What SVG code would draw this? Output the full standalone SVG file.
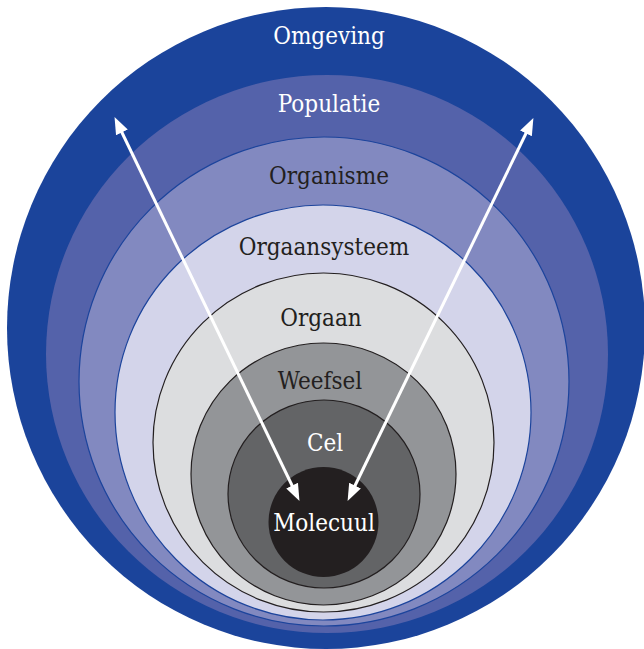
<svg xmlns="http://www.w3.org/2000/svg" width="644" height="649" viewBox="0 0 644 649">
<defs>
<style>
.lbl{font-family:"DejaVu Serif Condensed","DejaVu Serif","Liberation Serif",serif;font-size:24px;text-anchor:middle;}
.w{fill:#ffffff;}
.d{fill:#231f20;}
.blue{stroke:#1c449c;stroke-width:1.2;}
.gray{stroke:#231f20;stroke-width:1.2;}
.arrow{stroke:#ffffff;stroke-width:3;fill:none;marker-start:url(#ah);marker-end:url(#ah);}
</style>
<marker id="ah" markerUnits="userSpaceOnUse" markerWidth="18" markerHeight="14" refX="6" refY="6.5" orient="auto-start-reverse" viewBox="0 0 18 13">
<path d="M0,0 L17,6.5 L0,13 z" fill="#ffffff"/>
</marker>
</defs>
<g id="omgeving"><ellipse cx="326" cy="328" rx="319" ry="321" fill="#1b449b"/><text class="lbl w" x="329" y="44">Omgeving</text></g>
<g id="populatie"><ellipse cx="327" cy="354" rx="281" ry="279" fill="#5462aa"/><text class="lbl w" x="329" y="112">Populatie</text></g>
<g id="organisme"><ellipse cx="324" cy="381.5" rx="245" ry="244.5" fill="#8289c0" class="blue"/><text class="lbl d" x="329" y="184">Organisme</text></g>
<g id="orgaansysteem"><ellipse cx="323" cy="412.5" rx="208" ry="207.5" fill="#d3d4ea" class="blue"/><text class="lbl d" x="324" y="255">Orgaansysteem</text></g>
<g id="orgaan"><ellipse cx="323.5" cy="442.5" rx="170.5" ry="169.5" fill="#dcdddf" class="gray"/><text class="lbl d" x="321" y="326">Orgaan</text></g>
<g id="weefsel"><ellipse cx="323.5" cy="474" rx="132.5" ry="131" fill="#939598" class="gray"/><text class="lbl d" x="320" y="389">Weefsel</text></g>
<g id="cel"><ellipse cx="324" cy="494" rx="96" ry="94" fill="#636466" class="gray"/><text class="lbl w" x="325" y="451">Cel</text></g>
<g id="molecuul"><ellipse cx="323.5" cy="522" rx="55" ry="55" fill="#231f20"/><text class="lbl w" x="324" y="531">Molecuul</text></g>
<g id="connectors">
<line class="arrow" x1="119.3" y1="127" x2="294.7" y2="491"/>
<line class="arrow" x1="528.6" y1="128" x2="352.4" y2="491"/>
</g>
</svg>
